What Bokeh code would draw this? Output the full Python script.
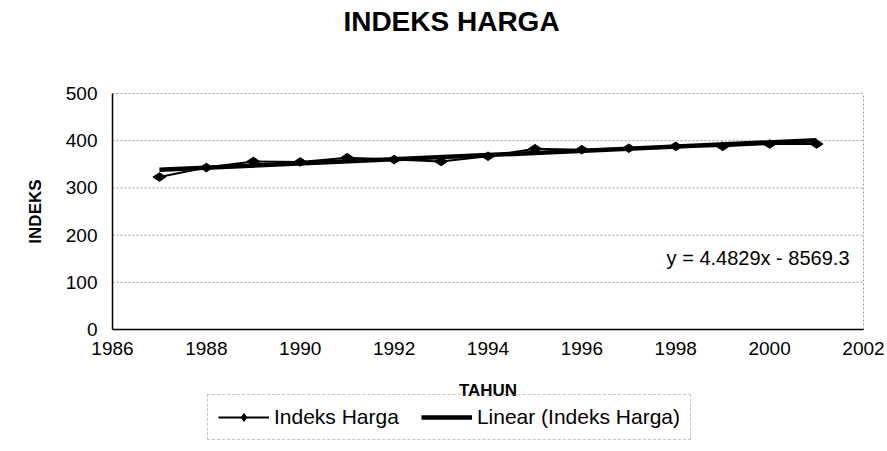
from math import pi
from bokeh.plotting import figure
from bokeh.models import Range1d, FixedTicker, Label, Legend, LegendItem
from bokeh.embed import file_html
from bokeh.resources import INLINE

# ---- data ----
years = [1987, 1988, 1989, 1990, 1991, 1992, 1993, 1994,
         1995, 1996, 1997, 1998, 1999, 2000, 2001]
indeks = [323, 343, 356, 355, 364, 360, 356, 367,
          383, 381, 384, 388, 388, 393, 393]
slope = 4.4829
intercept = -8569.3
x_ticks = [1986, 1988, 1990, 1992, 1994, 1996, 1998, 2000, 2002]
y_ticks = [0, 100, 200, 300, 400, 500]
title_text = "INDEKS HARGA"
x_label = "TAHUN"
y_label = "INDEKS"
series_name = "Indeks Harga"
trend_name = "Linear (Indeks Harga)"
equation = "y = 4.4829x - 8569.3"

trend_x = [years[0], years[-1]]
trend_y = [slope * x + intercept for x in trend_x]

FONT = "Liberation Sans"
W, H = 887, 451
# plot-area placement on the canvas (pixels)
PL, PR, PT, PB = 112, 863, 93, 329
xmin, xmax = x_ticks[0], x_ticks[-1]
ymin, ymax = y_ticks[0], y_ticks[-1]
xs = (PR - PL) / (xmax - xmin)
ys = (PB - PT) / (ymax - ymin)
x_range = Range1d(xmin - PL / xs, xmax + (W - PR) / xs)
y_range = Range1d(ymin - (H - PB) / ys, ymax + PT / ys)

p = figure(width=W, height=H, output_backend="svg", toolbar_location=None,
           x_range=x_range, y_range=y_range,
           min_border=0, min_border_left=0, min_border_right=0,
           min_border_top=0, min_border_bottom=0)
p.background_fill_color = "white"
p.border_fill_color = "white"
p.outline_line_color = None
p.xgrid.visible = False
p.ygrid.visible = False

# gridlines (horizontal, dotted) and right plot-area border
grid_y = y_ticks[1:]
p.segment(x0=[xmin] * len(grid_y), y0=grid_y, x1=[xmax] * len(grid_y), y1=grid_y,
          line_color="#999999", line_dash="2 2", line_width=1)
p.segment(x0=[xmax], y0=[ymin], x1=[xmax], y1=[ymax],
          line_color="#999999", line_dash="2 2", line_width=1)

# axes (drawn inside the full-canvas frame)
p.xaxis.fixed_location = ymin
p.yaxis.fixed_location = xmin
p.xaxis.bounds = (xmin, xmax)
p.yaxis.bounds = (ymin, ymax)
p.xaxis.ticker = FixedTicker(ticks=x_ticks)
p.yaxis.ticker = FixedTicker(ticks=y_ticks)
for ax in (p.xaxis[0], p.yaxis[0]):
    ax.axis_line_color = "black"
    ax.axis_line_width = 1.5
    ax.major_tick_out = 0
    ax.major_tick_in = 0
    ax.minor_tick_out = 0
    ax.minor_tick_in = 0
    ax.major_label_text_font = FONT
    ax.major_label_text_font_size = "19px"
    ax.major_label_text_color = "black"
    ax.axis_label_text_font = FONT
    ax.axis_label_text_font_style = "bold"
    ax.axis_label_text_color = "black"
p.xaxis.major_label_standoff = 12
p.yaxis.major_label_standoff = 15
p.xaxis.axis_label = x_label
p.xaxis.axis_label_text_font_size = "17px"
p.xaxis.axis_label_standoff = 23
p.yaxis.axis_label = y_label
p.yaxis.axis_label_text_font_size = "17px"
p.yaxis.axis_label_standoff = 18

# series
trend = p.line(trend_x, trend_y, line_color="black", line_width=4.5)
ln = p.line(years, indeks, line_color="black", line_width=2)
sc = p.scatter(years, indeks, marker="diamond", angle=pi / 2, size=13,
               fill_color="black", line_color="black")

# title
p.add_layout(Label(x=xmin + (451 - PL) / xs, y=ymax + (PT - 21) / ys, text=title_text,
                   text_align="center", text_baseline="middle", text_font=FONT,
                   text_font_style="bold", text_font_size="28px", text_color="black"))
# equation
p.add_layout(Label(x=xmin + (849 - PL) / xs, y=(PB - 257) / ys, text=equation,
                   text_align="right", text_baseline="middle", text_font=FONT,
                   text_font_size="20px", text_color="black"))

legend = Legend(items=[LegendItem(label=series_name, renderers=[ln, sc]),
                       LegendItem(label=trend_name, renderers=[trend])],
                orientation="horizontal", location=(207, H - 440))
legend.label_text_font = FONT
legend.label_text_font_size = "21px"
legend.label_text_color = "black"
legend.glyph_width = 51
legend.glyph_height = 20
legend.label_standoff = 5
legend.spacing = 22
legend.padding = 10
legend.margin = 0
legend.border_line_color = "#888888"
legend.border_line_dash = "3 1"
legend.border_line_width = 1
legend.background_fill_alpha = 0
p.add_layout(legend)

open("out.html", "w").write(file_html(p, INLINE))
